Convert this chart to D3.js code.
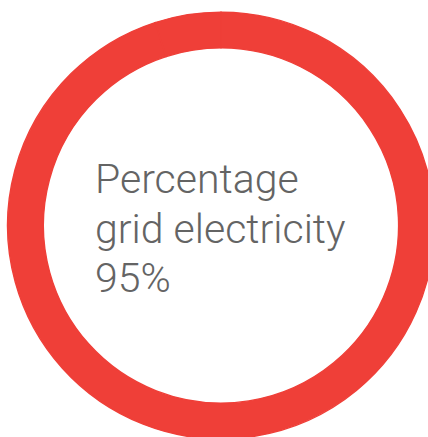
<!DOCTYPE html>
<html>
<head>
<meta charset="utf-8">
<script src="https://cdn.jsdelivr.net/npm/d3@7/dist/d3.min.js"></script>
<style>
  html, body { margin: 0; padding: 0; background: #ffffff; overflow: hidden; }
  svg { display: block; }
</style>
</head>
<body>
<script>
// Energy source shares (percent)
const sources = ["Grid electricity", "Other"];
const shares = [95, 5];
const ringColors = ["#ef3f38", "#ef3f38"];
const labelLines = ["Percentage", "grid electricity", "95%"];

const width = 428, height = 437;
const cx = 221, cy = 225.5;
const outerR = 213.4, innerR = 177.6;

const svg = d3.select("body").append("svg")
  .attr("width", width)
  .attr("height", height);

const color = d3.scaleOrdinal().domain(sources).range(ringColors);

const pie = d3.pie().sort(null).value((d, i) => shares[i]);
const arc = d3.arc().innerRadius(innerR).outerRadius(outerR);

const g = svg.append("g").attr("transform", `translate(${cx},${cy})`);

// Same-coloured stroke closes the anti-aliasing seam where segments meet
g.selectAll("path")
  .data(pie(sources))
  .join("path")
  .attr("d", arc)
  .attr("fill", d => color(d.data))
  .attr("stroke", d => color(d.data))
  .attr("stroke-width", 1.4)
  .attr("stroke-linejoin", "miter");

// Centre label
const text = svg.append("text")
  .attr("x", 95)
  .attr("y", 193)
  .attr("font-family", "Roboto, 'Helvetica Neue', Arial, sans-serif")
  .attr("font-weight", 300)
  .attr("font-size", 41)
  .attr("fill", "#646464");

text.selectAll("tspan")
  .data(labelLines)
  .join("tspan")
  .attr("x", 95)
  .attr("dy", (d, i) => i === 0 ? 0 : 49.5)
  .text(d => d);
</script>
</body>
</html>
